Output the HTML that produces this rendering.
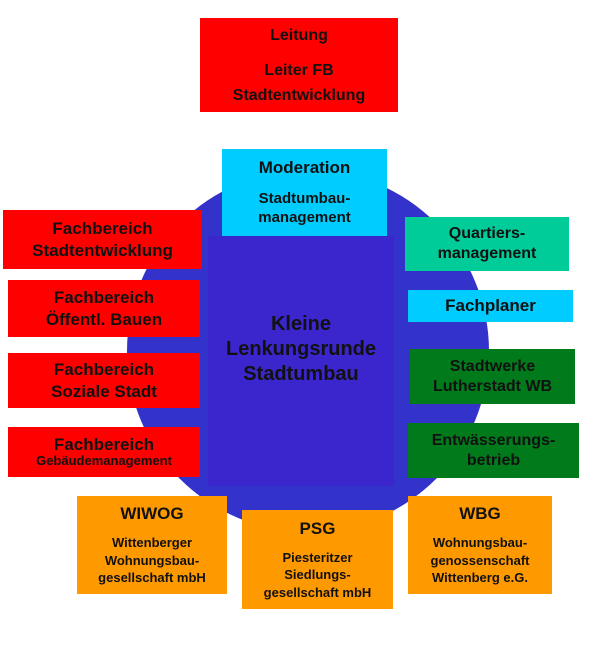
<!DOCTYPE html>
<html><head><meta charset="utf-8"><style>
body{margin:0;width:600px;height:651px;background:#fff;position:relative;overflow:hidden;font-family:"Liberation Sans",Arial,sans-serif;font-weight:bold;color:#111}
.b{position:absolute;display:flex;flex-direction:column;justify-content:center;align-items:center;text-align:center;line-height:1.25;font-size:16px;box-sizing:border-box}
.r{background:#ff0000}.c{background:#00ccff}.t{background:#00cc99}.g{background:#007a1a}.o{background:#ff9900}
</style></head><body>
<div style="position:absolute;left:127px;top:170px;width:362px;height:362px;border-radius:50%;background:#3333cc"></div>
<div style="position:absolute;left:208px;top:236px;width:186px;height:250px;background:#3a26cc"></div>
<div class="b" style="left:208px;top:312px;width:186px;font-size:20px;line-height:25px">Kleine<br>Lenkungsrunde<br>Stadtumbau</div>

<div class="b r" style="left:200px;top:18px;width:198px;height:94px;font-size:16px;line-height:25px"><div style="margin-bottom:10px">Leitung</div>Leiter FB<br>Stadtentwicklung</div>
<div class="b c" style="left:222px;top:149px;width:165px;height:87px"><div style="font-size:17px;margin-bottom:10px">Moderation</div><div style="font-size:15px;line-height:1.3">Stadtumbau-<br>management</div></div>

<div class="b r" style="left:3px;top:210px;width:199px;height:59px;font-size:17px">Fachbereich<br>Stadtentwicklung</div>
<div class="b r" style="left:8px;top:280px;width:192px;height:57px;font-size:17px">Fachbereich<br>Öffentl. Bauen</div>
<div class="b r" style="left:8px;top:353px;width:192px;height:55px;font-size:17px">Fachbereich<br>Soziale Stadt</div>
<div class="b r" style="left:8px;top:427px;width:192px;height:50px;font-size:17px;line-height:1.1">Fachbereich<br><span style="font-size:13px">Gebäudemanagement</span></div>

<div class="b t" style="left:405px;top:217px;width:164px;height:54px">Quartiers-<br>management</div>
<div class="b c" style="left:408px;top:290px;width:165px;height:32px;font-size:17px">Fachplaner</div>
<div class="b g" style="left:410px;top:349px;width:165px;height:55px">Stadtwerke<br>Lutherstadt WB</div>
<div class="b g" style="left:408px;top:423px;width:171px;height:55px">Entwässerungs-<br>betrieb</div>

<div class="b o" style="left:77px;top:496px;width:150px;height:98px;font-size:13px;line-height:1.35"><div style="font-size:17px;margin-bottom:8px">WIWOG</div>Wittenberger<br>Wohnungsbau-<br>gesellschaft mbH</div>
<div class="b o" style="left:242px;top:510px;width:151px;height:99px;font-size:13px;line-height:1.35"><div style="font-size:17px;margin-bottom:8px">PSG</div>Piesteritzer<br>Siedlungs-<br>gesellschaft mbH</div>
<div class="b o" style="left:408px;top:496px;width:144px;height:98px;font-size:13px;line-height:1.35"><div style="font-size:17px;margin-bottom:8px">WBG</div>Wohnungsbau-<br>genossenschaft<br>Wittenberg e.G.</div>
</body></html>
